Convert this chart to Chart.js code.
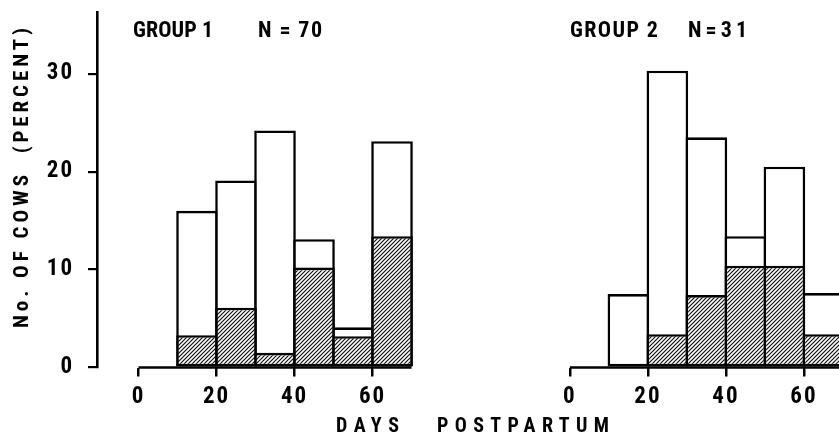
<!DOCTYPE html>
<html>
<head>
<meta charset="utf-8">
<script src="https://cdn.jsdelivr.net/npm/chart.js@4.4.1/dist/chart.umd.min.js"></script>
<style>
  html, body { margin: 0; padding: 0; background: #fff; }
  #c { display: block; }
</style>
</head>
<body>
<canvas id="c" width="839" height="438"></canvas>
<script>
// ---------------- data ----------------
const BIN_STARTS = [10, 20, 30, 40, 50, 60];      // days postpartum, bin start
const BIN_WIDTH = 10;
const G1_TOTAL   = [16.0, 19.1, 24.2, 13.1, 4.1, 23.1];
const G1_HATCHED = [3.3, 6.1, 1.5, 10.2, 3.2, 13.4];
const G2_TOTAL   = [7.5, 30.3, 23.5, 13.4, 20.5, 7.6];
const G2_HATCHED = [0, 3.4, 7.4, 10.4, 10.4, 3.4];
const X_TICKS = [0, 20, 40, 60];
const Y_TICKS = [0, 10, 20, 30];
const AXIS_SPAN = [0, 70];
const GROUP_LABELS = ['GROUP 1', 'GROUP 2'];
const N_LABELS = ['N = 70', 'N=31'];
const X_TITLE = ['DAYS', 'POSTPARTUM'];
const Y_TITLE = 'No. OF COWS  (PERCENT)';

// ---------------- layout ----------------
const PANEL2_SHIFT = 110.6;   // second panel drawn on the same x scale, shifted right
const X_MIN = -10.64, X_MAX = 179.6;
const Y_MAX = 36.3;
const FONT = "'Roboto Condensed', 'Open Sans', 'Liberation Sans', sans-serif";

const canvas = document.getElementById('c');
const ctx = canvas.getContext('2d');

function hatchPattern() {
  const s = 4;
  const c = document.createElement('canvas');
  c.width = s; c.height = s;
  const g = c.getContext('2d');
  g.fillStyle = '#fff';
  g.fillRect(0, 0, s, s);
  g.strokeStyle = '#111';
  g.lineWidth = 1.2;
  g.beginPath();
  g.moveTo(-1, s + 1); g.lineTo(s + 1, -1);
  g.moveTo(-1, 1); g.lineTo(1, -1);
  g.moveTo(s - 1, s + 1); g.lineTo(s + 1, s - 1);
  g.stroke();
  return ctx.createPattern(c, 'repeat');
}
const HATCH = hatchPattern();

function pts(values, shift) {
  return BIN_STARTS.map((b, i) => ({ x: b + BIN_WIDTH / 2 + shift, y: values[i] }));
}

const barCommon = {
  type: 'bar',
  borderColor: '#000',
  borderWidth: 2.6,
  borderSkipped: false,
  grouped: false,
  barPercentage: 1.067,
  categoryPercentage: 1,
};

const lineCommon = {
  type: 'line',
  borderColor: '#000',
  borderWidth: 2.6,
  pointRadius: 0,
  fill: false,
  clip: false,
};

// draw text so that it spans a given width (letter-spaced like the original)
function spaced(c, text, x, y, width) {
  c.letterSpacing = '0px';
  const w = c.measureText(text).width;
  const n = [...text].length;
  const sp = n > 1 ? (width - w) / (n - 1) : 0;
  c.letterSpacing = sp.toFixed(2) + 'px';
  c.fillText(text, x, y);
  c.letterSpacing = '0px';
}

const textPlugin = {
  id: 'texts',
  beforeDraw(chart) {
    chart.ctx.letterSpacing = '2px';
  },
  afterDraw(chart) {
    const c = chart.ctx;
    c.save();
    c.fillStyle = '#000';
    c.textBaseline = 'alphabetic';
    c.textAlign = 'left';
    // panel headers
    c.font = `bold 22px ${FONT}`;
    spaced(c, GROUP_LABELS[0], 133, 37, 80);
    spaced(c, N_LABELS[0], 258, 37, 64);
    spaced(c, GROUP_LABELS[1], 570, 37, 88);
    spaced(c, N_LABELS[1], 688, 37, 59);
    // x title
    c.font = `bold 20px ${FONT}`;
    spaced(c, X_TITLE[0], 336, 432, 63);
    spaced(c, X_TITLE[1], 437, 432, 172);
    // y title
    c.translate(28, 328);
    c.rotate(-Math.PI / 2);
    c.font = `bold 21px ${FONT}`;
    spaced(c, Y_TITLE, 0, 0, 300);
    c.restore();
  }
};

new Chart(ctx, {
  data: {
    datasets: [
      Object.assign({}, barCommon, { label: 'g1 hatched', data: pts(G1_HATCHED, 0), backgroundColor: HATCH }),
      Object.assign({}, barCommon, { label: 'g2 hatched', data: pts(G2_HATCHED, PANEL2_SHIFT), backgroundColor: HATCH }),
      Object.assign({}, barCommon, { label: 'g1 total', data: pts(G1_TOTAL, 0), backgroundColor: '#fff' }),
      Object.assign({}, barCommon, { label: 'g2 total', data: pts(G2_TOTAL, PANEL2_SHIFT), backgroundColor: '#fff' }),
      Object.assign({}, lineCommon, { label: 'axis1', data: AXIS_SPAN.map(v => ({ x: v, y: 0 })) }),
      Object.assign({}, lineCommon, { label: 'axis2', data: AXIS_SPAN.map(v => ({ x: v + PANEL2_SHIFT, y: 0 })) }),
    ]
  },
  options: {
    responsive: false,
    animation: false,
    devicePixelRatio: 1,
    layout: { padding: { top: 12, right: 0, bottom: 0, left: 0 } },
    plugins: { legend: { display: false }, tooltip: { enabled: false } },
    scales: {
      x: {
        type: 'linear',
        min: X_MIN, max: X_MAX,
        offset: false,
        afterFit(s) { s.height = 70.5; s.paddingLeft = 0; s.paddingRight = 0; },
        afterBuildTicks(s) {
          s.ticks = X_TICKS.map(v => ({ value: v })).concat(X_TICKS.map(v => ({ value: v + PANEL2_SHIFT })));
        },
        border: { display: false },
        grid: { display: true, offset: false, drawOnChartArea: false, drawTicks: true, tickLength: 9, color: '#000', lineWidth: 2.5 },
        ticks: {
          color: '#000',
          font: { family: FONT, size: 23, weight: 'bold' },
          padding: 7,
          maxRotation: 0,
          autoSkip: false,
          callback(v) {
            const base = v >= PANEL2_SHIFT - 1 ? v - PANEL2_SHIFT : v;
            return String(Math.round(base));
          }
        }
      },
      y: {
        type: 'linear',
        min: 0, max: Y_MAX,
        afterFit(s) { s.width = 97; s.paddingTop = 0; s.paddingBottom = 0; },
        afterBuildTicks(s) { s.ticks = Y_TICKS.map(v => ({ value: v })); },
        border: { display: true, color: '#000', width: 2.6 },
        grid: { display: true, drawOnChartArea: false, drawTicks: true, tickLength: 9, color: '#000', lineWidth: 2.2 },
        ticks: {
          color: '#000',
          font: { family: FONT, size: 23, weight: 'bold' },
          padding: 14,
        }
      }
    }
  },
  plugins: [textPlugin]
});
</script>
</body>
</html>
